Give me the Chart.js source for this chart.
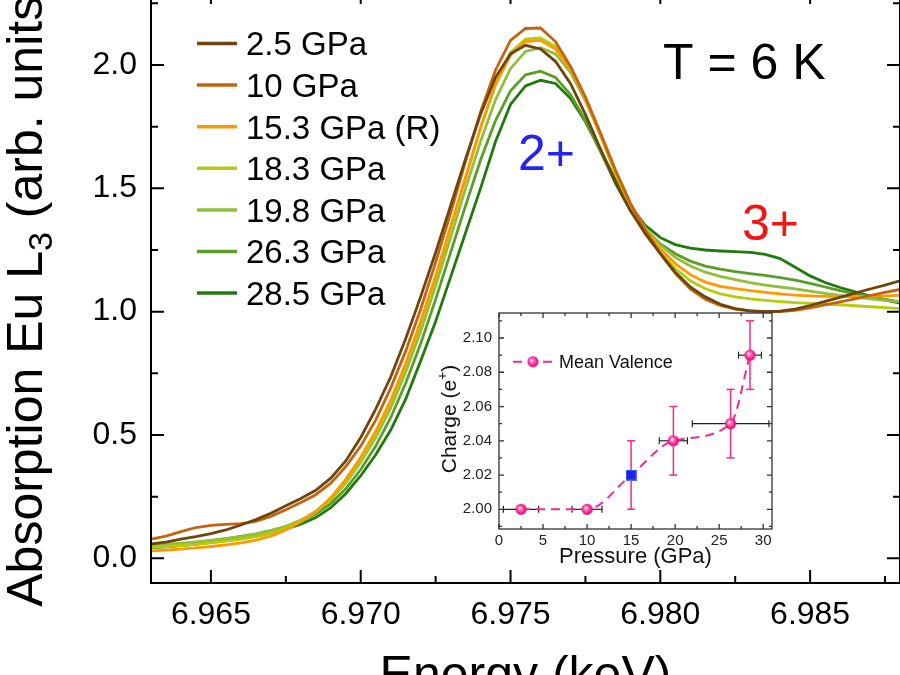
<!DOCTYPE html>
<html><head><meta charset="utf-8">
<script src="https://cdn.jsdelivr.net/npm/chart.js@4.4.1/dist/chart.umd.min.js"></script>
<style>
html,body{margin:0;padding:0;background:#fff;overflow:hidden;width:900px;height:675px;position:relative}
#main{position:absolute;left:0;top:-20px}
#inset{position:absolute;left:420px;top:300px}
</style></head><body>
<canvas id="main" width="920" height="720"></canvas>
<canvas id="inset" width="370" height="280"></canvas>
<script>
// ---------- main chart data ----------
const energy = [6.963,6.9635,6.964,6.9645,6.965,6.9655,6.966,6.9665,6.967,6.9675,6.968,6.9685,6.969,6.9695,6.970,6.9705,6.971,6.9715,6.972,6.9725,6.973,6.9735,6.974,6.9745,6.975,6.9755,6.976,6.9765,6.977,6.9775,6.978,6.9785,6.979,6.9795,6.980,6.9805,6.981,6.9815,6.982,6.9825,6.983,6.9835,6.984,6.9845,6.985,6.9855,6.986,6.9865,6.987,6.9875,6.988];
const gpa2_5 = [0.058,0.066,0.078,0.088,0.100,0.115,0.135,0.157,0.183,0.213,0.243,0.276,0.325,0.395,0.490,0.605,0.735,0.890,1.060,1.240,1.430,1.620,1.800,1.950,2.045,2.080,2.065,2.015,1.925,1.800,1.660,1.525,1.410,1.315,1.235,1.160,1.100,1.060,1.030,1.012,1.003,1.000,1.002,1.010,1.025,1.042,1.058,1.075,1.092,1.108,1.125];
const gpa10 = [0.078,0.090,0.108,0.125,0.134,0.138,0.141,0.150,0.170,0.197,0.226,0.258,0.305,0.372,0.455,0.560,0.690,0.840,1.010,1.200,1.400,1.610,1.810,1.980,2.100,2.148,2.150,2.095,1.995,1.870,1.725,1.575,1.440,1.330,1.235,1.155,1.092,1.050,1.025,1.010,1.003,1.000,1.000,1.005,1.015,1.028,1.040,1.052,1.065,1.078,1.090];
const gpa15_3 = [0.030,0.033,0.037,0.042,0.048,0.055,0.063,0.074,0.090,0.115,0.148,0.190,0.245,0.320,0.410,0.515,0.640,0.790,0.960,1.145,1.345,1.545,1.745,1.920,2.040,2.095,2.100,2.065,1.985,1.865,1.720,1.570,1.435,1.335,1.255,1.195,1.150,1.120,1.103,1.093,1.085,1.078,1.072,1.067,1.064,1.062,1.061,1.061,1.062,1.064,1.066];
const gpa18_3 = [0.045,0.048,0.052,0.057,0.063,0.070,0.078,0.088,0.102,0.122,0.150,0.188,0.240,0.312,0.400,0.505,0.630,0.780,0.950,1.135,1.335,1.540,1.745,1.925,2.050,2.105,2.110,2.075,1.990,1.865,1.715,1.560,1.425,1.325,1.240,1.175,1.125,1.093,1.072,1.060,1.052,1.046,1.041,1.037,1.034,1.031,1.028,1.024,1.020,1.016,1.012];
const gpa19_8 = [0.055,0.058,0.062,0.067,0.073,0.080,0.088,0.098,0.112,0.130,0.155,0.190,0.238,0.305,0.390,0.490,0.610,0.755,0.920,1.105,1.300,1.500,1.690,1.860,1.985,2.055,2.070,2.045,1.970,1.855,1.715,1.565,1.435,1.340,1.270,1.220,1.185,1.160,1.143,1.130,1.118,1.108,1.100,1.092,1.083,1.074,1.066,1.059,1.052,1.046,1.040];
const gpa26_3 = [0.050,0.054,0.059,0.065,0.072,0.080,0.089,0.099,0.112,0.128,0.150,0.180,0.222,0.282,0.360,0.455,0.570,0.710,0.870,1.050,1.240,1.430,1.615,1.775,1.895,1.960,1.975,1.950,1.880,1.775,1.650,1.520,1.410,1.330,1.275,1.235,1.205,1.185,1.172,1.162,1.154,1.147,1.138,1.128,1.115,1.100,1.085,1.072,1.060,1.050,1.040];
const gpa28_5 = [0.043,0.047,0.052,0.058,0.065,0.072,0.080,0.090,0.102,0.118,0.138,0.165,0.205,0.262,0.335,0.420,0.520,0.645,0.800,0.960,1.140,1.320,1.500,1.690,1.840,1.915,1.938,1.925,1.865,1.770,1.655,1.535,1.430,1.350,1.300,1.272,1.258,1.250,1.246,1.243,1.240,1.232,1.215,1.180,1.145,1.118,1.098,1.080,1.063,1.048,1.035];
const seriesLabels = ['2.5 GPa','10 GPa','15.3 GPa (R)','18.3 GPa','19.8 GPa','26.3 GPa','28.5 GPa'];
const seriesValues = [gpa2_5, gpa10, gpa15_3, gpa18_3, gpa19_8, gpa26_3, gpa28_5];
const seriesColors = ['#6e4411','#c4640e','#ff9900','#b4cc0a','#92be3c','#5a9e28','#217a0c'];
const xTickValues = [6.965,6.970,6.975,6.980,6.985];
const xTickLabels = ['6.965','6.970','6.975','6.980','6.985'];
const xMinorValues = [6.9675,6.9725,6.9775,6.9825,6.9875];
const yTickValues = [0,0.5,1.0,1.5,2.0];
const yTickLabels = ['0.0','0.5','1.0','1.5','2.0'];
const yMinorValues = [0.25,0.75,1.25,1.75,2.25];

// ---------- inset data ----------
const pressure = [2.5,10,15,19.8,26.3,28.5];
const charge = [2.00,2.00,2.02,2.04,2.05,2.09];
const pressureErr = [2.0,1.7,0.3,1.6,4.35,1.3];
const chargeErr = [0,0,0.02,0.02,0.02,0.02];
const insetXTicks = [0,5,10,15,20,25,30];
const insetXLabels = ['0','5','10','15','20','25','30'];
const insetXMinor = [2.5,7.5,12.5,17.5,22.5,27.5];
const insetYTicks = [2.00,2.02,2.04,2.06,2.08,2.10];
const insetYLabels = ['2.00','2.02','2.04','2.06','2.08','2.10'];
const insetYMinor = [1.99,2.01,2.03,2.05,2.07,2.09,2.11];

const FONT = '"Liberation Sans", Arial, Helvetica, sans-serif';
const OY = 20; // main canvas vertical offset

const fixW = w => s => { s.width = w; s.paddingTop = 0; s.paddingBottom = 0; s.paddingLeft = 0; s.paddingRight = 0; };
const fixH = h => s => { s.height = h; s.paddingTop = 0; s.paddingBottom = 0; s.paddingLeft = 0; s.paddingRight = 0; };

const mainDeco = {
  id: 'mainDeco',
  afterDraw(chart) {
    const {ctx, chartArea: a, scales: {x, y}} = chart;
    ctx.save();
    ctx.strokeStyle = '#000'; ctx.lineWidth = 2;
    ctx.strokeRect(a.left, a.top, a.right - a.left, a.bottom - a.top);
    ctx.beginPath();
    const xt = (vals, len) => vals.forEach(v => { const p = x.getPixelForValue(v);
      ctx.moveTo(p, a.bottom); ctx.lineTo(p, a.bottom - len); ctx.moveTo(p, a.top); ctx.lineTo(p, a.top + len); });
    const yt = (vals, len) => vals.forEach(v => { const p = y.getPixelForValue(v);
      ctx.moveTo(a.left, p); ctx.lineTo(a.left + len, p); ctx.moveTo(a.right, p); ctx.lineTo(a.right - len, p); });
    xt(xTickValues, 13); xt(xMinorValues, 7); yt(yTickValues, 13); yt(yMinorValues, 7);
    ctx.stroke();
    // legend
    ctx.font = `33px ${FONT}`; ctx.textAlign = 'left'; ctx.textBaseline = 'alphabetic';
    chart.data.datasets.forEach((ds, i) => {
      const yy = 43.5 + 41.6 * i + OY;
      ctx.strokeStyle = ds.borderColor; ctx.lineWidth = 3.5;
      ctx.beginPath(); ctx.moveTo(197, yy); ctx.lineTo(237, yy); ctx.stroke();
      ctx.fillStyle = '#000'; ctx.fillText(ds.label, 246, yy + 11.8);
    });
    // annotations
    ctx.font = `50px ${FONT}`;
    ctx.fillStyle = '#000'; ctx.fillText('T = 6 K', 663, 78.5 + OY);
    ctx.fillStyle = '#2323f5'; ctx.fillText('2+', 518, 170 + OY);
    ctx.fillStyle = '#f51414'; ctx.fillText('3+', 742, 240 + OY);
    // x title
    ctx.fillStyle = '#000'; ctx.textAlign = 'center';
    ctx.fillText('Energy (keV)', (a.left + a.right) / 2, 691 + OY);
    // y title
    ctx.save(); ctx.translate(42, 293 + OY); ctx.rotate(-Math.PI / 2);
    ctx.textAlign = 'left';
    const p1 = 'Absorption Eu L', p2 = '3', p3 = ' (arb. units)';
    ctx.font = `50px ${FONT}`; const w1 = ctx.measureText(p1).width, w3 = ctx.measureText(p3).width;
    ctx.font = `34px ${FONT}`; const w2 = ctx.measureText(p2).width;
    let sx = -(w1 + w2 + w3) / 2;
    ctx.font = `50px ${FONT}`; ctx.fillText(p1, sx, 0); sx += w1;
    ctx.font = `34px ${FONT}`; ctx.fillText(p2, sx, 10); sx += w2;
    ctx.font = `50px ${FONT}`; ctx.fillText(p3, sx, 0);
    ctx.restore();
    ctx.restore();
  }
};

new Chart(document.getElementById('main'), {
  type: 'line',
  data: {
    datasets: seriesLabels.map((lab, i) => ({
      label: lab,
      data: energy.map((e, k) => ({x: e, y: seriesValues[i][k]})),
      borderColor: seriesColors[i], backgroundColor: seriesColors[i],
      borderWidth: 2.8, pointRadius: 0, tension: 0, fill: false
    }))
  },
  options: {
    responsive: false, animation: false, devicePixelRatio: 1,
    layout: {padding: {left: 0, right: 20, top: 11, bottom: 0}},
    plugins: {legend: {display: false}, tooltip: {enabled: false}},
    scales: {
      x: {type: 'linear', min: 6.963, max: 6.988,
        grid: {display: false, drawTicks: false}, border: {display: false},
        afterBuildTicks: s => { s.ticks = xTickValues.map(v => ({value: v})); },
        ticks: {callback: (v, i) => xTickLabels[i], font: {family: FONT, size: 32}, color: '#000', padding: 13, maxRotation: 0, autoSkip: false},
        afterFit: fixH(117)
      },
      y: {type: 'linear', min: -0.1, max: 2.3,
        grid: {display: false, drawTicks: false}, border: {display: false},
        afterBuildTicks: s => { s.ticks = yTickValues.map(v => ({value: v})); },
        ticks: {callback: (v, i) => yTickLabels[i], font: {family: FONT, size: 32}, color: '#000', padding: 14, autoSkip: false},
        afterFit: fixW(151)
      }
    }
  },
  plugins: [mainDeco]
});

// ---------- inset ----------
function makeSphere(r) {
  const c = document.createElement('canvas'); const s = 2 * r + 2; c.width = s; c.height = s;
  const g = c.getContext('2d');
  const grad = g.createRadialGradient(s / 2 - r * 0.3, s / 2 - r * 0.3, r * 0.05, s / 2, s / 2, r);
  grad.addColorStop(0, '#ffffff'); grad.addColorStop(0.3, '#ff7cc0'); grad.addColorStop(0.75, '#f5208c'); grad.addColorStop(1, '#d0086e');
  g.fillStyle = grad; g.beginPath(); g.arc(s / 2, s / 2, r, 0, Math.PI * 2); g.fill();
  return c;
}
function makeSquare(w) {
  const c = document.createElement('canvas'); c.width = w; c.height = w;
  const g = c.getContext('2d');
  g.fillStyle = '#1c22e8'; g.fillRect(0, 0, w, w);
  g.strokeStyle = '#4a70ff'; g.lineWidth = 1; g.strokeRect(0.5, 0.5, w - 1, w - 1);
  return c;
}
const sphere = makeSphere(5.5);
const square = makeSquare(11);
const IX = 420, IY = 300;
const PINK = '#f5288c';

const insetDeco = {
  id: 'insetDeco',
  beforeDraw(chart) {
    const {ctx, chartArea: a} = chart;
    ctx.save(); ctx.fillStyle = '#fff'; ctx.fillRect(a.left, a.top, a.right - a.left, a.bottom - a.top); ctx.restore();
  },
  beforeDatasetsDraw(chart) {
    const {ctx, scales: {x, y}} = chart;
    ctx.save();
    const ln = (x1, y1, x2, y2) => { ctx.beginPath(); ctx.moveTo(x1, y1); ctx.lineTo(x2, y2); ctx.stroke(); };
    pressure.forEach((p, i) => {
      const px = x.getPixelForValue(p), py = y.getPixelForValue(charge[i]);
      if (pressureErr[i] > 0) {
        const x1 = x.getPixelForValue(p - pressureErr[i]), x2 = x.getPixelForValue(p + pressureErr[i]);
        ctx.strokeStyle = '#222'; ctx.lineWidth = 1.2;
        ln(x1, py, x2, py); ln(x1, py - 3.5, x1, py + 3.5); ln(x2, py - 3.5, x2, py + 3.5);
      }
      if (chargeErr[i] > 0) {
        const y1 = y.getPixelForValue(charge[i] - chargeErr[i]), y2 = y.getPixelForValue(charge[i] + chargeErr[i]);
        ctx.strokeStyle = PINK; ctx.lineWidth = 1.5;
        ln(px, y1, px, y2); ln(px - 4, y1, px + 4, y1); ln(px - 4, y2, px + 4, y2);
      }
    });
    ctx.restore();
  },
  afterDraw(chart) {
    const {ctx, chartArea: a, scales: {x, y}} = chart;
    ctx.save();
    ctx.strokeStyle = '#333'; ctx.lineWidth = 1.3;
    ctx.strokeRect(a.left, a.top, a.right - a.left, a.bottom - a.top);
    ctx.beginPath();
    const xt = (vals, len) => vals.forEach(v => { const p = x.getPixelForValue(v);
      ctx.moveTo(p, a.bottom); ctx.lineTo(p, a.bottom - len); ctx.moveTo(p, a.top); ctx.lineTo(p, a.top + len); });
    const yt = (vals, len) => vals.forEach(v => { const p = y.getPixelForValue(v);
      ctx.moveTo(a.left, p); ctx.lineTo(a.left + len, p); ctx.moveTo(a.right, p); ctx.lineTo(a.right - len, p); });
    xt(insetXTicks, 5); xt(insetXMinor, 3); yt(insetYTicks, 5); yt(insetYMinor, 3);
    ctx.stroke();
    // legend
    const ly = 361.7 - IY;
    ctx.strokeStyle = PINK; ctx.lineWidth = 2; ctx.setLineDash([9, 6]);
    ctx.beginPath(); ctx.moveTo(513 - IX, ly); ctx.lineTo(553 - IX, ly); ctx.stroke();
    ctx.setLineDash([]);
    ctx.drawImage(sphere, 533 - IX - sphere.width / 2, ly - sphere.height / 2);
    ctx.fillStyle = '#111'; ctx.font = `18px ${FONT}`; ctx.textAlign = 'left'; ctx.textBaseline = 'alphabetic';
    ctx.fillText(chart.data.datasets[0].label, 559 - IX, ly + 6.5);
    // x title
    ctx.font = `22px ${FONT}`; ctx.textAlign = 'center';
    ctx.fillText('Pressure (GPa)', (a.left + a.right) / 2, 563 - IY);
    // y title with superscript
    ctx.save(); ctx.translate(456 - IX, 419 - IY); ctx.rotate(-Math.PI / 2); ctx.textAlign = 'left';
    ctx.font = `21px ${FONT}`; const t1 = 'Charge (e', t3 = ')'; const w1 = ctx.measureText(t1).width, w3 = ctx.measureText(t3).width;
    ctx.font = `14px ${FONT}`; const w2 = ctx.measureText('+').width;
    let sx = -(w1 + w2 + w3) / 2;
    ctx.font = `21px ${FONT}`; ctx.fillText(t1, sx, 0); sx += w1;
    ctx.font = `14px ${FONT}`; ctx.fillText('+', sx, -9); sx += w2;
    ctx.font = `21px ${FONT}`; ctx.fillText(t3, sx, 0);
    ctx.restore();
    ctx.restore();
  }
};

new Chart(document.getElementById('inset'), {
  type: 'line',
  data: {
    datasets: [{
      label: 'Mean Valence',
      data: pressure.map((p, i) => ({x: p, y: charge[i]})),
      borderColor: PINK, backgroundColor: PINK, borderWidth: 2, borderDash: [9, 6],
      cubicInterpolationMode: 'monotone', fill: false,
      pointStyle: ctx => (ctx.dataIndex === 2 ? square : sphere),
      pointRadius: 5.5
    }]
  },
  options: {
    responsive: false, animation: false, devicePixelRatio: 1,
    layout: {padding: {left: 0, right: 18, top: 13, bottom: 0}},
    plugins: {legend: {display: false}, tooltip: {enabled: false}},
    scales: {
      x: {type: 'linear', min: 0, max: 31,
        grid: {display: false, drawTicks: false}, border: {display: false},
        afterBuildTicks: s => { s.ticks = insetXTicks.map(v => ({value: v})); },
        ticks: {callback: (v, i) => insetXLabels[i], font: {family: FONT, size: 15}, color: '#222', padding: 3, maxRotation: 0, autoSkip: false},
        afterFit: fixH(51)
      },
      y: {type: 'linear', min: 1.9885, max: 2.1146,
        grid: {display: false, drawTicks: false}, border: {display: false},
        afterBuildTicks: s => { s.ticks = insetYTicks.map(v => ({value: v})); },
        ticks: {callback: (v, i) => insetYLabels[i], font: {family: FONT, size: 15}, color: '#222', padding: 7, autoSkip: false},
        afterFit: fixW(79)
      }
    }
  },
  plugins: [insetDeco]
});
</script>
</body></html>
